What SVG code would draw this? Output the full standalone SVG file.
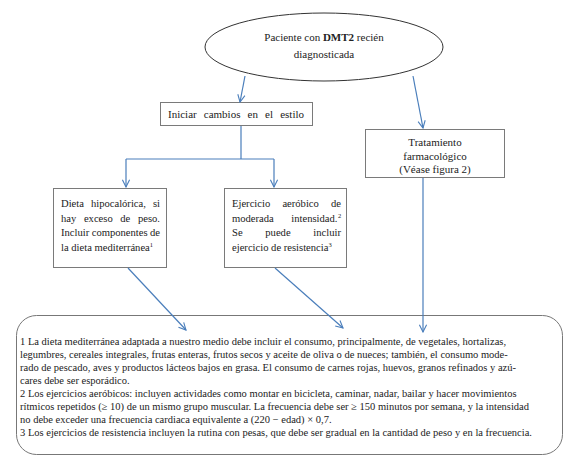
<svg xmlns="http://www.w3.org/2000/svg" width="571" height="457" viewBox="0 0 571 457">
<defs>
<style>
text{font-family:"Liberation Serif","Times New Roman",serif;fill:#222;}
.t{font-size:11px;}
.b{font-size:10.6px;}
.n{font-size:10.5px;}
.sup{font-size:6.5px;}
.box{fill:#fff;stroke:#7a7a7a;stroke-width:1;}
.c{fill:none;stroke:#4a7ebb;stroke-width:1.2;}
</style>
<marker id="ah" viewBox="0 0 10 10" refX="9" refY="5" markerWidth="9" markerHeight="9" orient="auto" markerUnits="userSpaceOnUse">
<path d="M1,1 L9,5 L1,9" fill="none" stroke="#4a7ebb" stroke-width="1.2"/>
</marker>
</defs>
<rect width="571" height="457" fill="#fff"/>

<g id="start">
<ellipse cx="324" cy="47" rx="119" ry="34" fill="#fff" stroke="#333" stroke-width="1"/>
<text class="t" x="324" y="41" text-anchor="middle">Paciente con <tspan font-weight="bold">DMT2</tspan> recién</text>
<text class="t" x="324" y="58" text-anchor="middle">diagnosticada</text>
</g>

<g id="iniciar">
<rect class="box" x="160.5" y="102.5" width="152" height="23"/>
<text class="t" y="118"><tspan x="168">Iniciar</tspan><tspan x="203.8">cambios</tspan><tspan x="247.6">en</tspan><tspan x="265.1">el</tspan><tspan x="304" text-anchor="end">estilo</tspan></text>
</g>

<g id="tratamiento">
<rect class="box" x="365.5" y="129.5" width="139" height="48"/>
<text class="t" x="435" y="145.5" text-anchor="middle">Tratamiento</text>
<text class="t" x="435" y="159.5" text-anchor="middle">farmacológico</text>
<text class="t" x="435" y="173" text-anchor="middle">(Véase figura 2)</text>
</g>

<g id="dieta">
<rect class="box" x="53.5" y="188.5" width="113" height="79"/>
<text class="b" y="207"><tspan x="61">Dieta</tspan><tspan x="90.9">hipocalórica,</tspan><tspan x="160" text-anchor="end">si</tspan></text>
<text class="b" y="221.5"><tspan x="61">hay</tspan><tspan x="83.9">exceso</tspan><tspan x="120.3">de</tspan><tspan x="160" text-anchor="end">peso.</tspan></text>
<text class="b" y="236"><tspan x="61">Incluir</tspan><tspan x="91.7">componentes</tspan><tspan x="160" text-anchor="end">de</tspan></text>
<text class="b" x="61" y="250.5">la dieta mediterránea<tspan class="sup" dy="-4">1</tspan></text>
</g>

<g id="ejercicio">
<rect class="box" x="224.5" y="188.5" width="122" height="79"/>
<text class="b" y="207"><tspan x="232">Ejercicio</tspan><tspan x="282.4">aeróbico</tspan><tspan x="341" text-anchor="end">de</tspan></text>
<text class="b" y="221.5"><tspan x="232">moderada</tspan><tspan x="337.5" text-anchor="end">intensidad.</tspan></text>
<text class="sup" x="338" y="217.5">2</text>
<text class="b" y="236"><tspan x="232">Se</tspan><tspan x="265.3">puede</tspan><tspan x="341" text-anchor="end">incluir</tspan></text>
<text class="b" x="232" y="250.5">ejercicio de resistencia<tspan class="sup" dy="-4">3</tspan></text>
</g>

<g id="notas">
<rect x="16.5" y="315.5" width="546" height="139" rx="20" ry="20" fill="#fff" stroke="#777" stroke-width="1"/>
<text class="n" x="20" y="345">1 La dieta mediterránea adaptada a nuestro medio debe incluir el consumo, principalmente, de vegetales, hortalizas,</text>
<text class="n" x="20" y="358">legumbres, cereales integrales, frutas enteras, frutos secos y aceite de oliva o de nueces; también, el consumo mode-</text>
<text class="n" x="20" y="371">rado de pescado, aves y productos lácteos bajos en grasa. El consumo de carnes rojas, huevos, granos refinados y azú-</text>
<text class="n" x="20" y="384">cares debe ser esporádico.</text>
<text class="n" x="20" y="397">2 Los ejercicios aeróbicos: incluyen actividades como montar en bicicleta, caminar, nadar, bailar y hacer movimientos</text>
<text class="n" x="20" y="410">rítmicos repetidos (≥ 10) de un mismo grupo muscular. La frecuencia debe ser ≥ 150 minutos por semana, y la intensidad</text>
<text class="n" x="20" y="423">no debe exceder una frecuencia cardiaca equivalente a (220 − edad) × 0,7.</text>
<text class="n" x="20" y="436">3 Los ejercicios de resistencia incluyen la rutina con pesas, que debe ser gradual en la cantidad de peso y en la frecuencia.</text>
</g>

<g id="connectors">
<path class="c" d="M245,76 L240,102" marker-end="url(#ah)"/>
<path class="c" d="M413,76 L423,128" marker-end="url(#ah)"/>
<path class="c" d="M241,126 L241,159 M126,159 L274,159"/>
<path class="c" d="M126,159 L126,187" marker-end="url(#ah)"/>
<path class="c" d="M274,159 L274,187" marker-end="url(#ah)"/>
<path class="c" d="M128,268 L186,330" marker-end="url(#ah)"/>
<path class="c" d="M275,268 L343,328" marker-end="url(#ah)"/>
<path class="c" d="M423,178 L423,332" marker-end="url(#ah)"/>
</g>
</svg>
